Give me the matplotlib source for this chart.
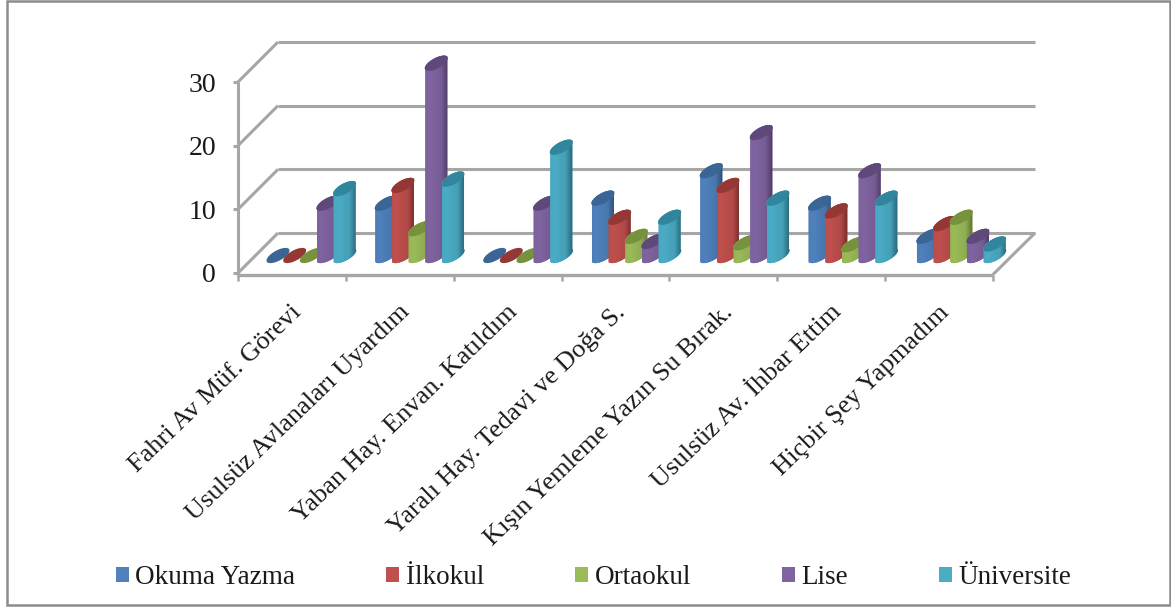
#!/usr/bin/env python3
"""
Cylinder column chart with a drawn 3D look (walls, floor and sheared ellipse tops)
"""

import matplotlib
matplotlib.use('Agg')
import matplotlib.pyplot as plt
from matplotlib.patches import PathPatch, Polygon, Rectangle
from matplotlib.path import Path
import numpy as np

plt.rcParams['font.family'] = ['Liberation Serif', 'DejaVu Serif']

# Data
categories = ['Fahri Av Müf. Görevi', 'Usulsüz Avlanaları Uyardım',
              'Yaban Hay. Envan. Katıldım', 'Yaralı Hay. Tedavi ve Doğa S.',
              'Kışın Yemleme Yazın Su Bırak.', 'Usulsüz Av. İhbar Ettim',
              'Hiçbir Şey Yapmadım']
series_names = ['Okuma Yazma', 'İlkokul', 'Ortaokul', 'Lise', 'Üniversite']
okuma_yazma = [0, 8.2, 0, 9, 13.3, 8.2, 3]
ilkokul = [0, 11, 0, 6, 11, 7, 5]
ortaokul = [0, 4.2, 0, 3, 2, 1.7, 6]
lise = [8.2, 30.2, 8.2, 2.2, 19.3, 13.3, 3]
universite = [10.5, 12, 17, 6, 9, 9, 1.8]
y_ticks = [0, 10, 20, 30]

all_series = [okuma_yazma, ilkokul, ortaokul, lise, universite]

# base, top and dark side colours per series
base_colors = ['#4F81BD', '#C0504D', '#9BBB59', '#8064A2', '#4BACC6']
top_colors = ['#3A6595', '#953735', '#76923C', '#5F497A', '#31859C']
side_colors = ['#2A4A70', '#6E2A28', '#56692C', '#44345A', '#215F70']

W, H = 1171, 608
GREY = '#A6A6A6'

fig = plt.figure(figsize=(W / 100, H / 100), dpi=100)
fig.patch.set_facecolor('white')

# the axes is the front plane: x 238-993 px, y 273-82 px
AX_L, AX_R = 238, 993
AX_B, AX_T = 273, 82
ax = fig.add_axes([AX_L / W, 1 - AX_B / H, (AX_R - AX_L) / W, (AX_B - AX_T) / H])
ax.set_xlim(0, len(categories))
ax.set_ylim(0, 30)
ax.axis('off')

px_x = len(categories) / (AX_R - AX_L)   # category units per pixel
px_y = 30 / (AX_B - AX_T)                # value units per pixel

# figure frame
fig.add_artist(Rectangle((7 / W, 1 - 604.5 / H), (1169.5 - 7) / W, (604.5 - 1) / H,
                         transform=fig.transFigure, fill=False,
                         edgecolor='#8C8C8C', linewidth=1.8))

depth_x = 40 * px_x
depth_y = 40 * px_y
floor_drop = 1.5 * px_y


def wall_line(xs, ys, lw=2.2):
    ax.plot(xs, ys, color=GREY, linewidth=lw, clip_on=False, zorder=1,
            solid_capstyle='butt')


# back wall grid, side wall diagonals and left axis
for v in y_ticks:
    wall_line([depth_x, len(categories) + depth_x + 2 * px_x],
              [v + depth_y, v + depth_y])
    wall_line([0, depth_x], [v, v + depth_y])
    wall_line([-5 * px_x, 0], [v, v])
    ax.text(-22 * px_x, v - 3 * px_y, str(v), ha='right', va='center', fontsize=20,
            color='#1A1A1A', clip_on=False)
wall_line([0, 0], [-floor_drop, 30])

# floor
wall_line([-1 * px_x, len(categories)], [-floor_drop, -floor_drop], lw=2.4)
wall_line([len(categories), len(categories) + depth_x + 2 * px_x],
          [-floor_drop, depth_y])

# x ticks and rotated labels
for i in range(len(categories) + 1):
    wall_line([i, i], [-floor_drop, -floor_drop - 6 * px_y], lw=1.8)
for i, name in enumerate(categories):
    ax.text(i + 0.56, -36 * px_y, name, rotation=44, rotation_mode='anchor',
            ha='right', va='center', fontsize=19, color='#1A1A1A', clip_on=False)

# bar geometry, in pixels turned into data units
group_step = 108.33 * px_x
bar_step = 16.67 * px_x
first_left = 29 * px_x
base_y = -(262 - AX_B) * px_y
top_dx = 22 * px_x
top_dy = 13 * px_y


def ellipse_points(x0, y0, start, stop, n=40):
    t = np.linspace(start, stop, n)
    cx, cy = x0 + top_dx / 2, y0 + top_dy / 2
    major_x, major_y = top_dx / 2, top_dy / 2
    minor_x, minor_y = -3.4 * px_x, 4.0 * px_y
    return np.column_stack([cx + major_x * np.cos(t) + minor_x * np.sin(t),
                            cy + major_y * np.cos(t) + minor_y * np.sin(t)])


for s, values in enumerate(all_series):
    for g, v in enumerate(values):
        x0 = first_left + g * group_step + s * bar_step
        y0 = base_y + v
        z = 3 + g * 10 + s
        if v > 0:
            lower = ellipse_points(x0, base_y, np.pi, 2 * np.pi)
            upper = ellipse_points(x0, y0, 0, np.pi)
            outline = np.vstack([lower, upper, lower[:1]])
            body = PathPatch(Path(outline), facecolor=base_colors[s],
                             edgecolor='none', zorder=z, clip_on=False)
            ax.add_patch(body)
            # horizontal shading across the cylinder
            rgb0 = np.array(matplotlib.colors.to_rgb(base_colors[s]))
            rgb1 = np.array(matplotlib.colors.to_rgb(side_colors[s]))
            frac = np.clip((np.linspace(0, 1, 44) - 0.66) / 0.34, 0, 1)[None, :, None]
            light = 1 - 0.10 * np.abs(np.linspace(-1, 1, 44) + 0.45)[None, :, None]
            grad = (rgb0[None, None, :] * (1 - frac) + rgb1[None, None, :] * frac) * light
            im = ax.imshow(np.clip(grad, 0, 1),
                           extent=[x0 - 4 * px_x, x0 + top_dx + 4 * px_x,
                                   base_y - 5 * px_y, y0 + top_dy + 5 * px_y],
                           aspect='auto', zorder=z, interpolation='bilinear')
            im.set_clip_path(body)
            im.set_clip_box(fig.bbox)
        ring = ellipse_points(x0, y0, 0, 2 * np.pi)
        ax.add_patch(Polygon(ring, closed=True, facecolor=top_colors[s],
                             edgecolor='none', zorder=z + 0.5, clip_on=False))

# imshow changes the limits
ax.set_xlim(0, len(categories))
ax.set_ylim(0, 30)

# legend along the bottom
handles = [Rectangle((0, 0), 1, 1, facecolor=c, edgecolor='none') for c in base_colors]
leg = fig.legend(handles, series_names, ncol=5, loc='center',
                 bbox_to_anchor=(593.5 / W, 1 - 578 / H), frameon=False,
                 fontsize=19.5, handlelength=0.48, handleheight=0.48, handletextpad=0.25,
                 columnspacing=3.35, labelcolor='#1A1A1A')

fig.savefig('out.png', dpi=100, facecolor='white')
plt.close()
